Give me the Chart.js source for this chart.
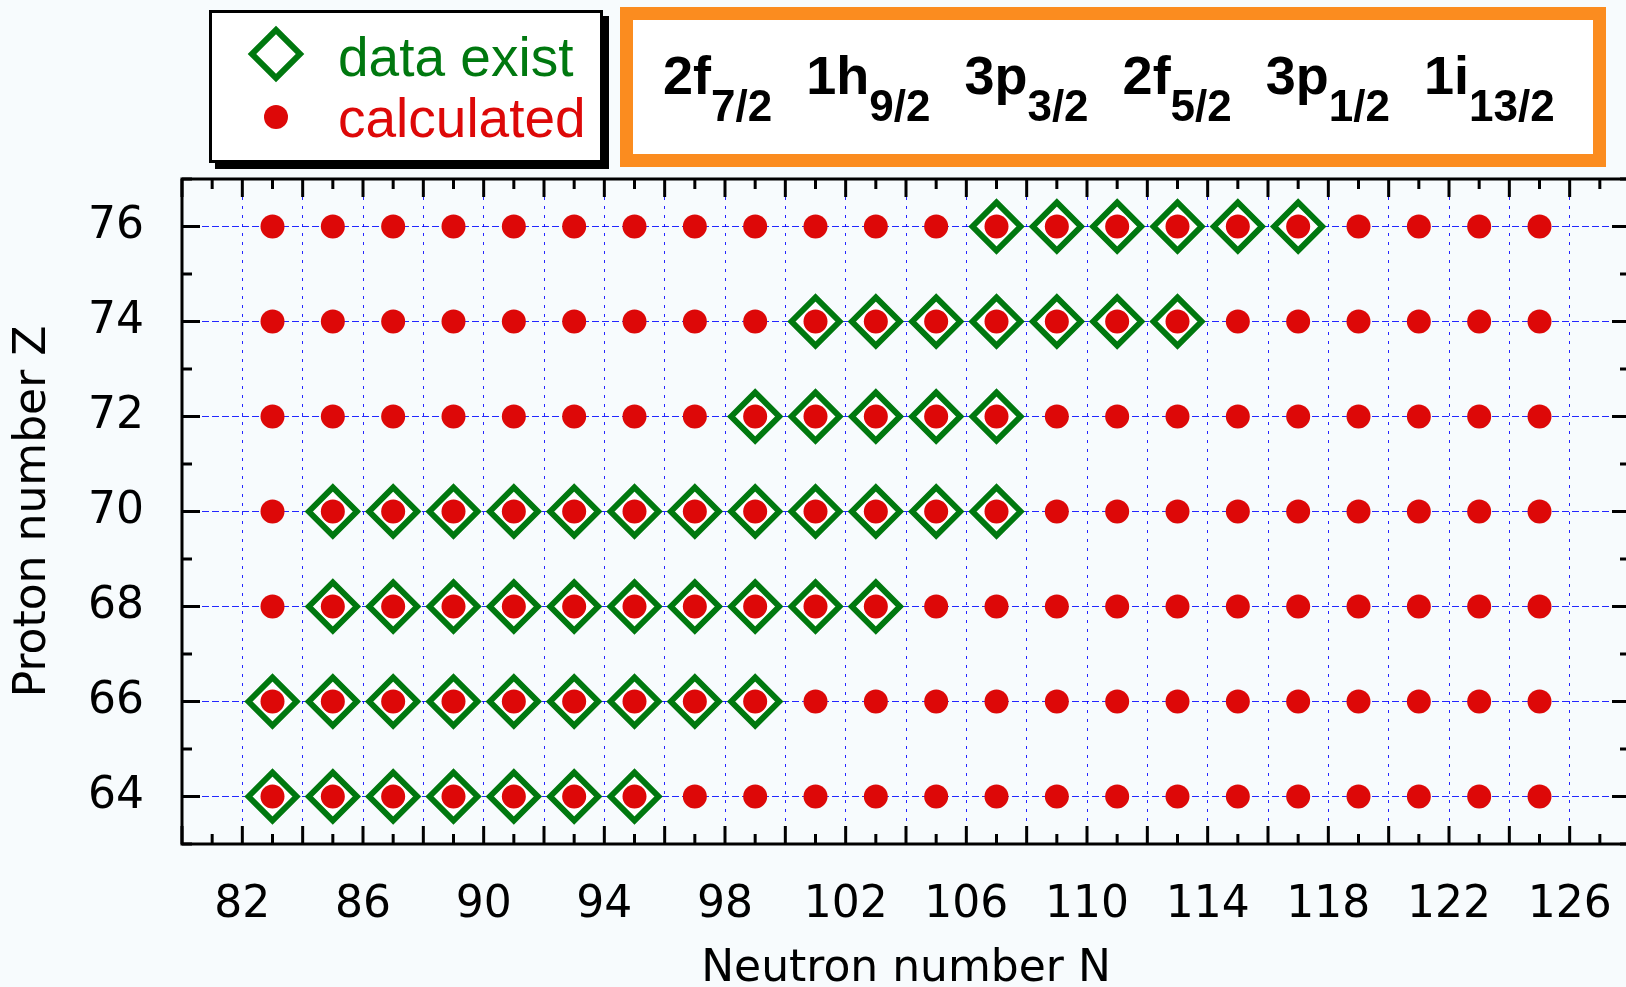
<!DOCTYPE html>
<html>
<head>
<meta charset="utf-8">
<title>Proton number Z vs Neutron number N</title>
<script src="https://cdn.jsdelivr.net/npm/chart.js@4.4.1/dist/chart.umd.min.js"></script>
<style>
  body { margin: 0; background: #f7fbfd; }
  #wrap { position: relative; width: 1626px; height: 987px; overflow: hidden; }
  #chart { position: absolute; left: 0; top: 0; }
  .legend { position: absolute; left: 209px; top: 10px; width: 394px; height: 153px;
    box-sizing: border-box; border: 3px solid #000; background: #fff; box-shadow: 6px 6px 0 #000; }
  .sym-diamond { position: absolute; left: 256px; top: 34px; width: 40px; height: 40px;
    box-sizing: border-box; border: 6px solid #00780f; background: #fff; transform: rotate(45deg); }
  .sym-dot { position: absolute; left: 264px; top: 105px; width: 24px; height: 24px;
    border-radius: 50%; background: #dd0808; }
  .leg-text { position: absolute; left: 338px; font: 55px/55px "Liberation Sans", Arial, sans-serif; white-space: nowrap; }
  .shells { position: absolute; left: 620px; top: 7px; width: 986px; height: 160px;
    box-sizing: border-box; border: 13px solid #fb8c1f; background: #fff; }
  .orbitals { position: absolute; left: 663px; top: 48px; display: flex; gap: 34px; align-items: baseline;
    font: bold 54px/54px "Liberation Sans", Arial, sans-serif; color: #000; white-space: nowrap; }
  .orbitals sub { font-size: 44px; line-height: 0; vertical-align: -27px; }
</style>
</head>
<body>
<div id="wrap">
  <!-- canvas is a little wider than the page: the right frame edge sits just off screen -->
  <canvas id="chart" width="1630" height="987"></canvas>
  <div class="legend"></div>
  <div class="sym-diamond"></div>
  <div class="sym-dot"></div>
  <div class="leg-text" style="top:30px;color:#00780f">data exist</div>
  <div class="leg-text" style="top:91px;color:#dd0808">calculated</div>
  <div class="shells"></div>
  <div class="orbitals">
    <span>2f<sub>7/2</sub></span>
    <span>1h<sub>9/2</sub></span>
    <span>3p<sub>3/2</sub></span>
    <span>2f<sub>5/2</sub></span>
    <span>3p<sub>1/2</sub></span>
    <span>1i<sub>13/2</sub></span>
  </div>
</div>
<script>
// even-even nuclei grid (odd N here)
const neutronNumbers = [83, 85, 87, 89, 91, 93, 95, 97, 99, 101, 103, 105, 107, 109, 111, 113, 115, 117, 119, 121, 123, 125];
const protonNumbers = [64, 66, 68, 70, 72, 74, 76];

// N values where data exist, per Z
const dataExistZ64 = [83, 85, 87, 89, 91, 93, 95];
const dataExistZ66 = [83, 85, 87, 89, 91, 93, 95, 97, 99];
const dataExistZ68 = [85, 87, 89, 91, 93, 95, 97, 99, 101, 103];
const dataExistZ70 = [85, 87, 89, 91, 93, 95, 97, 99, 101, 103, 105, 107];
const dataExistZ72 = [99, 101, 103, 105, 107];
const dataExistZ74 = [101, 103, 105, 107, 109, 111, 113];
const dataExistZ76 = [107, 109, 111, 113, 115, 117];

const xMin = 80, xMax = 128;
const yMin = 63, yMax = 77;

const dataExist = [
  [64, dataExistZ64], [66, dataExistZ66], [68, dataExistZ68], [70, dataExistZ70],
  [72, dataExistZ72], [74, dataExistZ74], [76, dataExistZ76]
].flatMap(([z, ns]) => ns.map(n => ({ x: n, y: z })));

const calculated = protonNumbers.flatMap(z => neutronNumbers.map(n => ({ x: n, y: z })));

// gnuplot style frame with inward ticks on all sides
const frameTicks = {
  id: 'frameTicks',
  afterDraw(chart) {
    const { ctx, chartArea: a, scales: { x, y } } = chart;
    ctx.save();
    ctx.strokeStyle = '#000';
    ctx.lineWidth = 3;
    ctx.beginPath();
    x.ticks.forEach(t => {
      const px = x.getPixelForValue(t.value);
      const len = t.value % 2 === 0 ? 18 : 10;
      ctx.moveTo(px, a.bottom); ctx.lineTo(px, a.bottom - len);
      ctx.moveTo(px, a.top); ctx.lineTo(px, a.top + len);
    });
    y.ticks.forEach(t => {
      const py = y.getPixelForValue(t.value);
      const len = t.value % 2 === 0 ? 18 : 10;
      ctx.moveTo(a.left, py); ctx.lineTo(a.left + len, py);
      ctx.moveTo(a.right, py); ctx.lineTo(a.right - len, py);
    });
    ctx.stroke();
    ctx.strokeRect(a.left, a.top, a.right - a.left, a.bottom - a.top);
    ctx.restore();
  }
};

const axisFont = { family: 'DejaVu Sans', size: 44 };

new Chart(document.getElementById('chart'), {
  type: 'scatter',
  data: {
    datasets: [
      {
        label: 'calculated',
        data: calculated,
        pointStyle: 'circle',
        pointRadius: 12,
        pointBackgroundColor: '#dd0808',
        pointBorderWidth: 0
      },
      {
        label: 'data exist',
        data: dataExist,
        pointStyle: 'rectRot',
        pointRadius: 24,
        pointBackgroundColor: '#ffffff',
        pointBorderColor: '#00780f',
        pointBorderWidth: 6
      }
    ]
  },
  options: {
    responsive: false,
    animation: false,
    events: [],
    devicePixelRatio: 1,
    layout: { autoPadding: false, padding: { top: 179, right: 0, bottom: 0, left: 0 } },
    plugins: { legend: { display: false }, tooltip: { enabled: false } },
    scales: {
      x: {
        type: 'linear',
        min: xMin,
        max: xMax,
        afterFit(s) { s.height = 143; s.paddingLeft = 0; s.paddingRight = 0; },
        border: { display: false, dash: [3, 6] },
        grid: {
          drawTicks: false,
          lineWidth: 1,
          color: c => c.tick.value % 2 === 0 ? 'rgba(0,0,255,0.85)' : 'transparent'
        },
        ticks: {
          stepSize: 1,
          maxTicksLimit: 100,
          autoSkip: false,
          maxRotation: 0,
          padding: 35,
          color: '#000',
          font: axisFont,
          callback: v => (v - 82) % 4 === 0 ? v : ''
        },
        title: {
          display: true,
          text: 'Neutron number N',
          color: '#000',
          font: { family: 'DejaVu Sans', size: 44, lineHeight: 0.8 },
          padding: 0
        }
      },
      y: {
        type: 'linear',
        min: yMin,
        max: yMax,
        afterFit(s) { s.width = 182; s.paddingTop = 0; s.paddingBottom = 0; },
        border: { display: false, dash: [7, 3] },
        grid: {
          drawTicks: false,
          lineWidth: 1,
          color: c => c.tick.value % 2 === 0 ? 'rgba(0,0,255,0.85)' : 'transparent'
        },
        ticks: {
          stepSize: 1,
          maxTicksLimit: 100,
          autoSkip: false,
          padding: 38,
          color: '#000',
          font: axisFont,
          callback: v => v % 2 === 0 ? v : ''
        },
        title: {
          display: true,
          text: 'Proton number Z',
          color: '#000',
          font: axisFont,
          padding: { top: 7, bottom: 0 }
        }
      }
    }
  },
  plugins: [frameTicks]
});
</script>
</body>
</html>
